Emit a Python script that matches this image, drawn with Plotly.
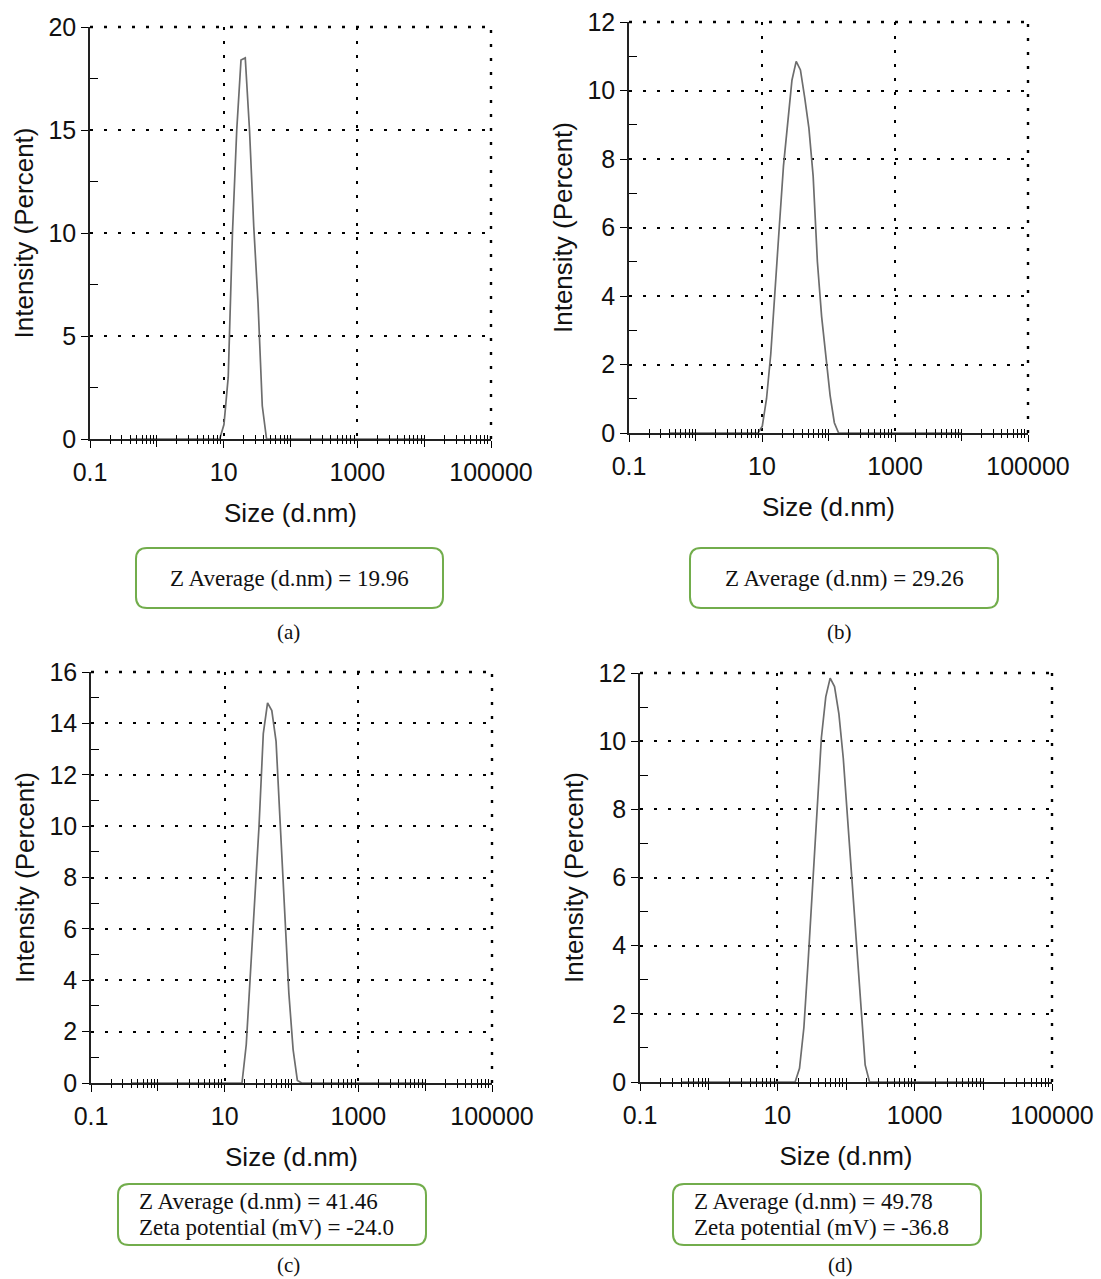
import plotly.graph_objects as go

W, H = 1101, 1279

# Intensity size distributions (Malvern size classes, d.nm) for the four samples
size_a = [0.4, 8.721, 10.1, 11.7, 13.54, 15.69, 18.17, 21.04, 24.36, 28.21, 32.67,
          37.84, 43.82, 50.75, 10000]
int_a = [0, 0, 0.7, 3.0, 10.0, 15.0, 18.4, 18.5, 15.0, 10.3, 6.6, 1.6, 0, 0, 0]

size_b = [0.4, 8.721, 10.1, 11.7, 13.54, 15.69, 18.17, 21.04, 24.36, 28.21, 32.67,
          37.84, 43.82, 50.75, 58.77, 68.06, 78.82, 91.28, 105.7, 122.4, 141.8, 10000]
int_b = [0, 0, 0.2, 1.0, 2.3, 4.3, 6.0, 7.8, 9.0, 10.3, 10.85,
         10.6, 9.8, 8.9, 7.5, 5.0, 3.4, 2.2, 1.1, 0.3, 0, 0]

size_c = [0.4, 18.17, 21.04, 24.36, 28.21, 32.67, 37.84, 43.82, 50.75, 58.77, 68.06,
          78.82, 91.28, 105.7, 122.4, 141.8, 10000]
int_c = [0, 0, 1.5, 4.2, 7.0, 10.0, 13.6, 14.8, 14.5, 13.3, 10.0,
         6.6, 3.5, 1.3, 0.1, 0, 0]

size_d = [0.4, 18.17, 21.04, 24.36, 28.21, 32.67, 37.84, 43.82, 50.75, 58.77, 68.06,
          78.82, 91.28, 105.7, 122.4, 141.8, 164.2, 190.1, 220.2, 10000]
int_d = [0, 0, 0.4, 1.6, 3.6, 5.7, 8.1, 10.1, 11.3, 11.85, 11.6,
         10.8, 9.5, 7.7, 5.8, 3.9, 2.0, 0.5, 0, 0]

y_max = [20, 12, 16, 12]
y_step = [5, 2, 2, 2]

x_tickvals = [0.1, 10, 1000, 100000]
x_ticktext = ["0.1", "10", "1000", "100000"]

box_lines = [
    ["Z Average (d.nm) = 19.96"],
    ["Z Average (d.nm) = 29.26"],
    ["Z Average (d.nm) = 41.46", "Zeta potential (mV) = -24.0"],
    ["Z Average (d.nm) = 49.78", "Zeta potential (mV) = -36.8"],
]
captions = ["(a)", "(b)", "(c)", "(d)"]

# plot-area rectangles in pixels: left, top, right, bottom
areas = [(90, 27, 491, 439), (629, 22, 1028, 433),
         (91, 672, 492, 1083), (640, 673, 1052, 1082)]
# summary boxes: left, top, right, bottom
boxes = [(136, 548, 443, 608), (690, 548, 998, 608),
         (118, 1184, 426, 1245), (673, 1184, 981, 1245)]
caption_pos = [(288, 632), (839, 632), (288, 1265), (840, 1265)]

series = [(size_a, int_a), (size_b, int_b), (size_c, int_c), (size_d, int_d)]


def px(x):
    return x / W


def py(y):
    return 1 - y / H


def rounded_path(x0, y0, x1, y1, r):
    pts = [
        ("M", [(x0 + r, y0)]), ("L", [(x1 - r, y0)]), ("Q", [(x1, y0), (x1, y0 + r)]),
        ("L", [(x1, y1 - r)]), ("Q", [(x1, y1), (x1 - r, y1)]),
        ("L", [(x0 + r, y1)]), ("Q", [(x0, y1), (x0, y1 - r)]),
        ("L", [(x0, y0 + r)]), ("Q", [(x0, y0), (x0 + r, y0)]),
    ]
    out = []
    for cmd, ps in pts:
        out.append(cmd + " " + " ".join(f"{px(a):.5f},{py(b):.5f}" for a, b in ps))
    return " ".join(out) + " Z"


minor_x = [m * 10 ** e for e in range(-1, 5) for m in range(2, 10)]
odd_decades = [1, 100, 10000]

TICK_FONT = dict(family="Liberation Sans, Arial, sans-serif", size=25, color="#111")
TITLE_FONT = dict(family="Liberation Sans, Arial, sans-serif", size=26, color="#111")
SERIF = "Liberation Serif, serif"
DOT = "3px,11px"
DOT_W = 2.4

fig = go.Figure()
layout = dict(
    template="none",
    width=W, height=H, margin=dict(l=0, r=0, t=0, b=0),
    paper_bgcolor="white", plot_bgcolor="white", showlegend=False,
)
shapes, annotations = [], []

for i in range(4):
    n = i + 1
    sfx = "" if n == 1 else str(n)
    ov = str(n + 4)
    l, t, r, b = areas[i]
    sizes, vals = series[i]

    fig.add_trace(go.Scatter(
        x=sizes, y=vals, mode="lines", xaxis="x" + sfx, yaxis="y" + sfx,
        line=dict(color="#6d6d6d", width=1.7), hoverinfo="skip",
    ))
    # companion axis carrying the opposite half of the x tick marks
    fig.add_trace(go.Scatter(x=[None], y=[None], xaxis="x" + ov, yaxis="y" + sfx,
                             mode="lines", hoverinfo="skip"))

    layout["xaxis" + sfx] = dict(
        domain=[px(l), px(r)], anchor="y" + sfx, type="log", range=[-1, 5],
        automargin=False,
        tickvals=x_tickvals, ticktext=x_ticktext, tickfont=TICK_FONT,
        ticks="outside", ticklen=7, tickwidth=1.3, tickcolor="black",
        ticklabelstandoff=3,
        showline=True, linecolor="#222", linewidth=1.5,
        showgrid=True, gridcolor="black", gridwidth=DOT_W, griddash=DOT,
        zeroline=False,
        minor=dict(tickvals=minor_x + odd_decades, ticks="inside", ticklen=4,
                   tickwidth=1.2, tickcolor="black", showgrid=False),
        title=dict(text="Size (d.nm)", font=TITLE_FONT, standoff=19),
    )
    layout["xaxis" + ov] = dict(
        overlaying="x" + sfx, anchor="y" + sfx, type="log", range=[-1, 5],
        automargin=False,
        tickvals=odd_decades, showticklabels=False,
        ticks="outside", ticklen=7, tickwidth=1.3, tickcolor="black",
        showline=False, showgrid=False, zeroline=False,
        minor=dict(tickvals=minor_x, ticks="outside", ticklen=4, tickwidth=1.2,
                   tickcolor="black", showgrid=False),
    )
    ymax, step = y_max[i], y_step[i]
    ymajor = list(range(0, ymax + 1, step))
    yminor = [v + step / 2 for v in ymajor[:-1]]
    layout["yaxis" + sfx] = dict(
        domain=[py(b), py(t)], anchor="x" + sfx, range=[0, ymax],
        automargin=False,
        tickvals=ymajor, tickfont=TICK_FONT,
        ticks="outside", ticklen=7, tickwidth=1.3, tickcolor="black",
        showline=True, linecolor="#222", linewidth=1.5,
        showgrid=True, gridcolor="black", gridwidth=DOT_W, griddash=DOT,
        zeroline=False,
        minor=dict(tickvals=yminor, ticks="inside", ticklen=8, tickwidth=1.2,
                   tickcolor="black", showgrid=False),
        title=dict(text="Intensity (Percent)", font=TITLE_FONT, standoff=7),
    )

    xd = ("x" if n == 1 else "x" + sfx) + " domain"
    yd = ("y" if n == 1 else "y" + sfx) + " domain"
    for x0, y0, x1, y1 in [(0, 1, 1, 1), (1, 0, 1, 1)]:
        shapes.append(dict(type="line", xref=xd, yref=yd, x0=x0, y0=y0, x1=x1, y1=y1,
                           line=dict(color="black", width=DOT_W, dash=DOT)))

    bl, bt, br, bb = boxes[i]
    shapes.append(dict(type="path", xref="paper", yref="paper",
                       path=rounded_path(bl, bt, br, bb, 11),
                       line=dict(color="#72ad4c", width=2)))
    lines = box_lines[i]
    if len(lines) == 1:
        annotations.append(dict(
            xref="paper", yref="paper", x=px((bl + br) / 2), y=py((bt + bb) / 2),
            text=lines[0], showarrow=False, xanchor="center", yanchor="middle",
            font=dict(family=SERIF, size=23, color="#111")))
    else:
        for k, line in enumerate(lines):
            annotations.append(dict(
                xref="paper", yref="paper", x=px(bl + 19), y=py(bt + 17 + 26 * k),
                text=line, showarrow=False, xanchor="left", yanchor="middle",
                font=dict(family=SERIF, size=23, color="#111")))
    cx, cy = caption_pos[i]
    annotations.append(dict(
        xref="paper", yref="paper", x=px(cx), y=py(cy), text=captions[i],
        showarrow=False, xanchor="center", yanchor="middle",
        font=dict(family=SERIF, size=21, color="#111")))

layout["shapes"] = shapes
layout["annotations"] = annotations
fig.update_layout(**layout)
fig.write_html("out.html")
